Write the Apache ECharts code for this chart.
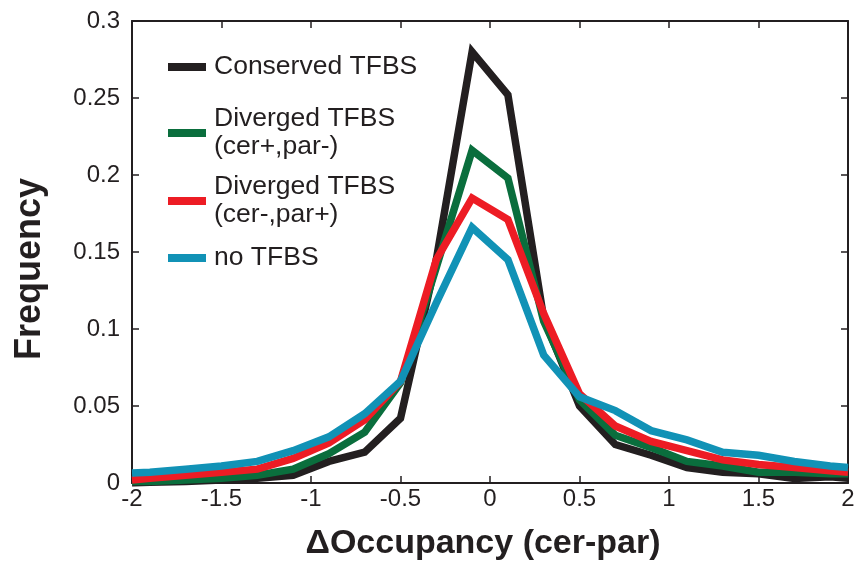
<!DOCTYPE html>
<html>
<head>
<meta charset="utf-8">
<script src="https://cdn.jsdelivr.net/npm/echarts@6/dist/echarts.min.js"></script>
<style>
  html, body { margin: 0; padding: 0; background: #fff; }
  #chart { width: 855px; height: 561px; }
</style>
</head>
<body>
<div id="chart"></div>
<script>
// Bin positions along ΔOccupancy (cer-par), plus the plot edges
const occupancy = [-2, -1.9, -1.7, -1.5, -1.3, -1.1, -0.9, -0.7, -0.5, -0.3, -0.1,
                   0.1, 0.3, 0.5, 0.7, 0.9, 1.1, 1.3, 1.5, 1.7, 1.9, 2];

const conserved = [0.000, 0.0005, 0.001, 0.002, 0.003, 0.005, 0.014, 0.020, 0.042, 0.145, 0.280,
                   0.252, 0.107, 0.050, 0.025, 0.018, 0.010, 0.007, 0.006, 0.003, 0.004, 0.003];
const divergedCerPlus = [0.001, 0.001, 0.002, 0.003, 0.005, 0.009, 0.019, 0.033, 0.065, 0.140, 0.216,
                         0.198, 0.105, 0.054, 0.031, 0.023, 0.014, 0.011, 0.007, 0.007, 0.006, 0.006];
const divergedParPlus = [0.002, 0.003, 0.005, 0.007, 0.009, 0.016, 0.026, 0.041, 0.066, 0.145, 0.185,
                         0.171, 0.110, 0.058, 0.037, 0.027, 0.021, 0.015, 0.012, 0.010, 0.008, 0.007];
const noTfbs = [0.0065, 0.007, 0.009, 0.011, 0.014, 0.021, 0.030, 0.045, 0.066, 0.117, 0.166,
                0.145, 0.083, 0.056, 0.047, 0.034, 0.028, 0.020, 0.018, 0.014, 0.011, 0.010];

const seriesNames = ['Conserved TFBS', 'Diverged TFBS\n(cer+,par-)', 'Diverged TFBS\n(cer-,par+)', 'no TFBS'];
const seriesColors = ['#231f20', '#0a6e3d', '#ed1c24', '#1192b6'];
const seriesValues = [conserved, divergedCerPlus, divergedParPlus, noTfbs];

const FONT = 'Liberation Sans, Arial, Helvetica, sans-serif';

const chart = echarts.init(document.getElementById('chart'), null, { renderer: 'canvas' });

const series = seriesNames.map((name, i) => ({
  name: name,
  type: 'line',
  xAxisIndex: 0,
  yAxisIndex: 0,
  data: occupancy.map((x, j) => [x, seriesValues[i][j]]),
  showSymbol: false,
  symbol: 'none',
  color: seriesColors[i],
  lineStyle: { width: 7.5, color: seriesColors[i], join: 'miter', cap: 'butt' },
  clip: true,
  z: 2 + i
}));

// One legend block per series so each entry sits at its own height
const legendTops = [53, 105, 173, 244];
const legends = seriesNames.map((name, i) => ({
  data: [name],
  orient: 'vertical',
  left: 168,
  top: legendTops[i],
  padding: 0,
  icon: 'rect',
  itemWidth: 38,
  itemHeight: 8,
  selectedMode: false,
  textStyle: {
    fontFamily: FONT,
    fontSize: 26.5,
    lineHeight: 28,
    color: '#231f20',
    padding: [0, 0, 0, 3]
  }
}));

const axisLine = { show: true, onZero: false, lineStyle: { color: '#231f20', width: 2 } };
const axisTick = { show: true, inside: true, length: 7, lineStyle: { color: '#231f20', width: 1.5 } };

chart.setOption({
  animation: false,
  backgroundColor: '#ffffff',
  grid: { left: 132, right: 7, top: 21, bottom: 78, containLabel: false, outerBoundsMode: 'none' },
  legend: legends,
  xAxis: [
    {
      type: 'value',
      min: -2, max: 2, interval: 0.5,
      name: 'ΔOccupancy (cer-par)',
      nameLocation: 'middle',
      nameGap: 44,
      nameTextStyle: {
        fontFamily: FONT, fontSize: 34, fontWeight: 'bold', color: '#231f20',
        padding: [0, 14, 0, 0]
      },
      axisLine: axisLine,
      axisTick: axisTick,
      splitLine: { show: false },
      axisLabel: { fontFamily: FONT, fontSize: 24, color: '#231f20', margin: 4 }
    },
    {
      type: 'value', position: 'top',
      min: -2, max: 2, interval: 0.5,
      axisLine: axisLine, axisTick: axisTick,
      splitLine: { show: false }, axisLabel: { show: false }
    }
  ],
  yAxis: [
    {
      type: 'value',
      min: 0, max: 0.3, interval: 0.05,
      name: 'Frequency',
      nameLocation: 'middle',
      nameGap: 84,
      nameRotate: 90,
      nameTextStyle: {
        fontFamily: FONT, fontSize: 36, fontWeight: 'bold', color: '#231f20',
        padding: [0, 34, 0, 0]
      },
      axisLine: axisLine,
      axisTick: axisTick,
      splitLine: { show: false },
      axisLabel: {
        fontFamily: FONT, fontSize: 24, color: '#231f20', margin: 12,
        formatter: v => String(+v.toFixed(2))
      }
    },
    {
      type: 'value', position: 'right',
      min: 0, max: 0.3, interval: 0.05,
      axisLine: axisLine, axisTick: axisTick,
      splitLine: { show: false }, axisLabel: { show: false }
    }
  ],
  series: series
});
</script>
</body>
</html>
